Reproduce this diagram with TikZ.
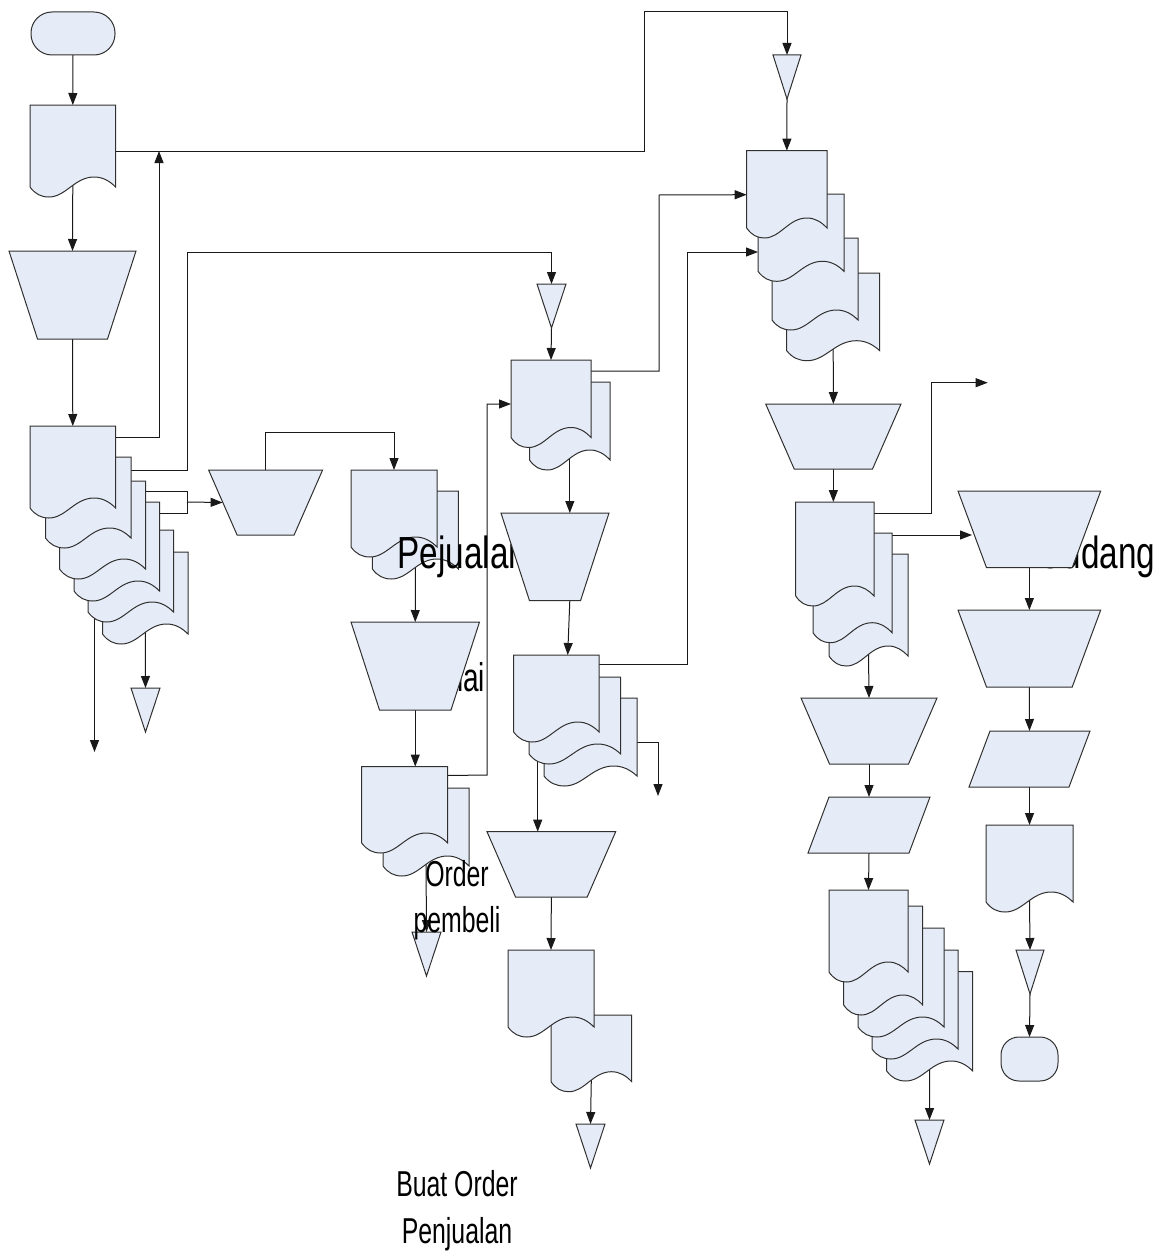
\documentclass[tikz,border=0pt]{standalone}
\usepackage{fontspec}
\setmainfont{Liberation Sans}
\usetikzlibrary{arrows.meta,calc}
\definecolor{shapefill}{HTML}{E6ECF7}
\definecolor{shapeline}{HTML}{303030}
\pgfdeclarelayer{connlayer}
\pgfdeclarelayer{lablayer}
\pgfdeclarelayer{toplayer}
\pgfsetlayers{connlayer,main,lablayer,toplayer}
\makeatletter
\newcommand\stdanchors{%
  \inheritsavedanchors[from=rectangle]%
  \inheritanchorborder[from=rectangle]%
  \inheritanchor[from=rectangle]{center}%
  \inheritanchor[from=rectangle]{north}%
  \inheritanchor[from=rectangle]{south}%
  \inheritanchor[from=rectangle]{east}%
  \inheritanchor[from=rectangle]{west}%
  \inheritanchor[from=rectangle]{north east}%
  \inheritanchor[from=rectangle]{north west}%
  \inheritanchor[from=rectangle]{south east}%
  \inheritanchor[from=rectangle]{south west}%
}
\newcommand\getbox{%
  \southwest \edef\sdL{\the\pgf@x}\edef\sdB{\the\pgf@y}%
  \northeast \edef\sdR{\the\pgf@x}\edef\sdT{\the\pgf@y}%
  \pgf@xc=\sdR \advance\pgf@xc by -\sdL \edef\sdW{\the\pgf@xc}%
}
\pgfdeclareshape{docshape}{
  \stdanchors
  \backgroundpath{
    \getbox
    \pgfpathmoveto{\pgfpoint{\sdL}{\sdT}}
    \pgfpathlineto{\pgfpoint{\sdR}{\sdT}}
    \pgfpathlineto{\pgfpoint{\sdR}{\sdB+10pt}}
    \pgfpathcurveto{\pgfpoint{\sdL+0.93*\sdW}{\sdB+16pt}}{\pgfpoint{\sdL+0.85*\sdW}{\sdB+20pt}}{\pgfpoint{\sdL+0.75*\sdW}{\sdB+20pt}}
    \pgfpathcurveto{\pgfpoint{\sdL+0.52*\sdW}{\sdB+20pt}}{\pgfpoint{\sdL+0.42*\sdW}{\sdB}}{\pgfpoint{\sdL+0.22*\sdW}{\sdB}}
    \pgfpathcurveto{\pgfpoint{\sdL+0.13*\sdW}{\sdB}}{\pgfpoint{\sdL+0.06*\sdW}{\sdB+3pt}}{\pgfpoint{\sdL}{\sdB+10pt}}
    \pgfpathclose
  }
}
\pgfdeclareshape{trapshape}{
  \stdanchors
  \backgroundpath{
    \getbox
    \pgfpathmoveto{\pgfpoint{\sdL}{\sdT}}
    \pgfpathlineto{\pgfpoint{\sdR}{\sdT}}
    \pgfpathlineto{\pgfpoint{\sdR-28.5pt}{\sdB}}
    \pgfpathlineto{\pgfpoint{\sdL+28.5pt}{\sdB}}
    \pgfpathclose
  }
}
\pgfdeclareshape{parashape}{
  \stdanchors
  \backgroundpath{
    \getbox
    \pgfpathmoveto{\pgfpoint{\sdL+21pt}{\sdT}}
    \pgfpathlineto{\pgfpoint{\sdR}{\sdT}}
    \pgfpathlineto{\pgfpoint{\sdR-21pt}{\sdB}}
    \pgfpathlineto{\pgfpoint{\sdL}{\sdB}}
    \pgfpathclose
  }
}
\pgfdeclareshape{trishape}{
  \stdanchors
  \backgroundpath{
    \getbox
    \pgfpathmoveto{\pgfpoint{\sdL}{\sdT}}
    \pgfpathlineto{\pgfpoint{\sdR}{\sdT}}
    \pgfpathlineto{\pgfpoint{\sdL+0.5*\sdW}{\sdB}}
    \pgfpathclose
  }
}
\makeatother
\tikzset{
  fig/.style={draw=shapeline,fill=shapefill,line width=1pt,inner sep=0pt,outer sep=0pt,anchor=north west},
  sz/.style 2 args={minimum width=#1pt,minimum height=#2pt},
  docu/.style={fig,shape=docshape},
  trap/.style={fig,shape=trapshape},
  para/.style={fig,shape=parashape},
  tria/.style={fig,shape=trishape},
  term/.style={fig,shape=rectangle,rounded corners=#1pt},
  wire/.style={draw=black!90,line width=1pt},
  conn/.style={wire,-{Triangle[length=12pt,width=9pt]}},
  bigl/.style={inner sep=0pt,outer sep=0pt,anchor=base west},
  midl/.style={inner sep=0pt,outer sep=0pt,anchor=base},
}
\newcommand\bigtext[1]{\scalebox{.74}[1]{\fontsize{45}{45}\selectfont #1}}
\newcommand\midtext[1]{\scalebox{.69}[1]{\fontsize{36}{36}\selectfont #1}}
\begin{document}
\begin{tikzpicture}[x=1pt,y=-1pt]
\useasboundingbox (0,0) rectangle (1175,1255);
% top left column
\node[term=21,sz={84}{43}] (term1) at (31,12) {};
\node[docu,sz={85.6}{92}] (D1) at (30,105) {};
\node[docu,sz={85.5}{92}] (A6) at (102.5,552) {};
\node[docu,sz={85.5}{92}] (A5) at (88,530) {};
\node[docu,sz={85.5}{99}] (A4) at (74,502) {};
\node[docu,sz={86}{98}] (A3) at (59.5,481) {};
\node[docu,sz={85.5}{91}] (A2) at (45.5,457) {};
\node[docu,sz={85.6}{92}] (A1) at (30,426) {};
\node[tria,sz={29}{44}] (triA) at (131,688) {};
% second column
\node[docu,sz={86}{88}] (B2) at (372.4,491) {};
\node[docu,sz={86}{87}] (B1) at (351,470) {};
\node[docu,sz={86}{88}] (C2) at (383,788) {};
\node[docu,sz={86}{86.5}] (C1) at (361.7,766.5) {};
\node[tria,sz={29}{44}] (triC) at (412,932) {};
% third column
\node[tria,sz={29}{44}] (triE) at (537,284) {};
\node[docu,sz={80.6}{88}] (E2) at (529.5,382) {};
\node[docu,sz={80}{87.5}] (E1) at (511,360) {};
\node[docu,sz={93}{88}] (F3) at (544,698) {};
\node[docu,sz={91.7}{87}] (F2) at (529,677) {};
\node[docu,sz={85.4}{87}] (F1) at (513.7,655) {};
\node[docu,sz={80.7}{76.7}] (H2) at (551,1015) {};
\node[docu,sz={86}{87}] (H1) at (508,950) {};
\node[tria,sz={29}{44}] (triH) at (576,1124) {};
% fourth column
\node[tria,sz={28}{44}] (triG) at (773,55) {};
\node[docu,sz={93}{87.7}] (G4) at (786.7,273) {};
\node[docu,sz={86}{92}] (G3) at (772,238) {};
\node[docu,sz={86}{87.3}] (G2) at (758,194) {};
\node[docu,sz={80.3}{87.3}] (G1) at (746.7,150.7) {};
\node[docu,sz={79}{112}] (J3) at (829,554) {};
\node[docu,sz={79}{109.7}] (J2) at (813,533) {};
\node[docu,sz={78.3}{104}] (J1) at (795.7,502) {};
\node[para,sz={122}{56}] (P1) at (808,797) {};
\node[docu,sz={86}{109.3}] (L5) at (886.7,971.7) {};
\node[docu,sz={86}{109}] (L4) at (872,950) {};
\node[docu,sz={86}{109}] (L3) at (858,928) {};
\node[docu,sz={79}{109}] (L2) at (843.7,906) {};
\node[docu,sz={79}{92}] (L1) at (829,890) {};
\node[tria,sz={29}{44}] (triL) at (915,1120) {};
% fifth column
\node[para,sz={121}{56}] (P2) at (969,731) {};
\node[docu,sz={87}{87}] (K) at (986,825) {};
\node[tria,sz={28}{44}] (triK) at (1016,950) {};
\node[term=18,sz={57}{44}] (term2) at (1001,1037) {};
% labels: over the documents, under the trapezoids
\begin{pgfonlayer}{lablayer}
\node[bigl] (lab1) at (397.5,568) {\bigtext{Pejualan}};
\node[bigl] (lab2) at (1037,568) {\bigtext{Gudang}};
\node[midl] (lab3) at (458,691.7) {\scalebox{.7}[1]{\fontsize{40}{40}\selectfont Nilai}};
\node[midl] (lab4) at (457,886) {\midtext{Order}};
\node[midl] (lab5) at (457,932.7) {\midtext{pembeli}};
\node[midl] (lab6) at (457,1196.7) {\midtext{Buat Order}};
\node[midl] (lab7) at (457,1243) {\midtext{Penjualan}};
\end{pgfonlayer}
% trapezoids
\begin{pgfonlayer}{toplayer}
\node[trap,sz={127}{88}] (T1) at (9,251) {};
\node[trap,sz={114}{65}] (T2) at (208.6,470) {};
\node[trap,sz={128.5}{88}] (T3) at (351,622) {};
\node[trap,sz={108}{87.7}] (T4) at (501,513) {};
\node[trap,sz={128.7}{65.3}] (T5) at (487,831.7) {};
\node[trap,sz={135.3}{65}] (T6) at (765.7,404) {};
\node[trap,sz={142.7}{76.7}] (T7) at (958,491) {};
\node[trap,sz={142.7}{77}] (T8) at (958,610) {};
\node[trap,sz={136}{66}] (T9) at (801,698) {};
\end{pgfonlayer}
% free ends
\coordinate (endA5) at (94.5,752);
\coordinate (endF3) at (658,796);
\coordinate (endJ1) at (987.7,382.7);
\coordinate (joinA) at (187,502);
% connectors
\begin{pgfonlayer}{connlayer}
\draw[conn] (term1.south) -- (D1.north);
\draw[conn] ($(D1.south)+(0,-14)$) -- (T1.north);
\draw[conn] (T1.south) -- (A1.north);
\draw[conn] ($(D1.north east)+(0,46)$) -- (644,151) -- (644,12) -| (triG.north);
\draw[conn] (triG.south) -- (G1.north);
\draw[conn] ($(A1.north east)+(0,11)$) -| (159,151);
\draw[conn] ($(A2.north east)+(0,13)$) -- (187,470) -- (187,252) -| (triE.north);
\draw[wire] ($(A3.north east)+(0,10)$) -| (joinA);
\draw[wire] ($(A4.north east)+(0,11)$) -| (joinA);
\draw[conn] (joinA) -- ($(T2.west)+(14,0)$);
\draw[conn] ($(A5.south west)+(6.5,-8)$) -- (endA5);
\draw[conn] ($(A6.south)+(0,-14)$) -- (triA.north);
\draw[conn] (T2.north) -- (265.6,432) -| (B1.north);
\draw[conn] ($(B2.south)+(0,-14)$) -- (T3.north);
\draw[conn] (T3.south) -- (T3.south |- C1.north);
\draw[conn] ($(C1.north east)+(0,9)$) -- (487,775) -- (487,404) -- ($(E1.north west)+(0,44)$);
\draw[conn] ($(C2.south)+(0,-14)$) -- (triC.north);
\draw[conn] (triE.south) -- (E1.north);
\draw[conn] ($(E1.north east)+(0,11)$) -- (659,371) -- (659,195) -- ($(G1.north west)+(0,44)$);
\draw[conn] ($(E2.south)+(0,-14)$) -- (E2.south |- T4.north);
\draw[conn] (E2.south |- T4.south) -- ($(F1.north west)+(54,0)$);
\draw[conn] ($(F1.north east)+(0,9)$) -- (687,664) -- (687,252) -- ($(G2.north west)+(0,58)$);
\draw[conn] ($(F3.north east)+(0,44)$) -| (endF3);
\draw[conn] ($(F2.south west)+(8.7,-6)$) -- ($(T5.north west)+(50.7,0)$);
\draw[conn] (T5.south) -- (H1.north);
\draw[conn] ($(H2.south)+(0,-14)$) -- (triH.north);
\draw[conn] ($(G4.south)+(0,-14)$) -- (T6.north);
\draw[conn] (T6.south) -- (T6.south |- J1.north);
\draw[conn] ($(J1.north east)+(0,11)$) -- (931,513) -- (931,382.7) -- (endJ1);
\draw[conn] ($(J2.north east)+(0,2)$) -- ($(T7.north west)+(14,44)$);
\draw[conn] (T7.south) -- (T8.north);
\draw[conn] (T8.south) -- (P2.north);
\draw[conn] (P2.south) -- (K.north);
\draw[conn] ($(K.south)+(0,-14)$) -- (triK.north);
\draw[conn] (triK.south) -- (term2.north);
\draw[conn] ($(J3.south)+(0,-14)$) -- (T9.north);
\draw[conn] (T9.south) -- (P1.north);
\draw[conn] (P1.south) -- (L1.north);
\draw[conn] ($(L5.south)+(0,-14)$) -- (triL.north);
\end{pgfonlayer}
\end{tikzpicture}
\end{document}
